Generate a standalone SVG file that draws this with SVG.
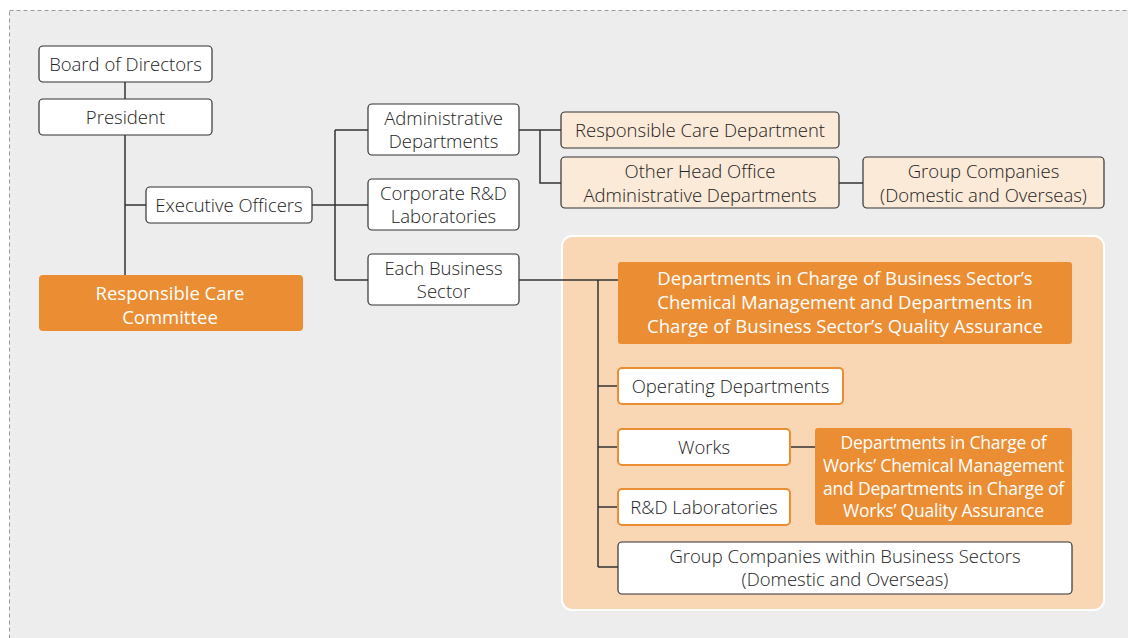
<svg xmlns="http://www.w3.org/2000/svg" width="1128" height="638" viewBox="0 0 1128 638">
<style>
text{font-family:"Open Sans","Noto Sans","Liberation Sans",sans-serif;font-size:18.5px;font-weight:300;fill:#222;text-anchor:middle;dominant-baseline:central}
.w{fill:#fff;stroke:#333;stroke-width:1.2}
.lo{fill:#fcead8;stroke:#333;stroke-width:1.2}
.o{fill:#eb8d33}
.ow{fill:#fff;stroke:#eb8d33;stroke-width:2}
.t{fill:#fff;font-weight:500;font-size:18.5px}
.s{font-size:17.5px;letter-spacing:-0.2px}
.c{fill:none;stroke:#333;stroke-width:1.5}
</style>
<rect x="0" y="0" width="1128" height="638" fill="#fff"/>
<rect x="9.5" y="10.5" width="1130" height="640" fill="#ededed" stroke="#999" stroke-dasharray="4 3"/>
<rect x="562" y="236" width="542" height="374" rx="10" fill="#f9d7b5" stroke="#fff" stroke-width="2"/>
<g id="connectors" class="c">
<path d="M125 82V99M125 135V275M125 205H146M312 205H335M335 130V280M335 130H368M335 205H368M335 280H368M519 130H561M540 130V183H561M839 183H863M519 280H618M598 280V567M598 386H618M598 447H618M598 507H618M598 567H618M790 447H815"/>
</g>
<g id="board"><rect class="w" x="39" y="46" width="173" height="36" rx="4"/><text x="125.5" y="63.5">Board of Directors</text></g>
<g id="president"><rect class="w" x="39" y="99" width="173" height="36" rx="4"/><text x="125.5" y="116.5">President</text></g>
<g id="exec"><rect class="w" x="146" y="187" width="166" height="36" rx="4"/><text x="229" y="204.5">Executive Officers</text></g>
<g id="rcc"><rect class="o" x="39" y="275" width="264" height="56" rx="4"/><text class="t" x="170" y="292">Responsible Care</text><text class="t" x="170" y="316">Committee</text></g>
<g id="admin"><rect class="w" x="368" y="104" width="151" height="51" rx="4"/><text x="443.5" y="117.5">Administrative</text><text x="443.5" y="140.5">Departments</text></g>
<g id="corprd"><rect class="w" x="368" y="179" width="151" height="51" rx="4"/><text x="443.5" y="192.5">Corporate R&amp;D</text><text x="443.5" y="215.5">Laboratories</text></g>
<g id="ebs"><rect class="w" x="368" y="254" width="151" height="51" rx="4"/><text x="443.5" y="267.5">Each Business</text><text x="443.5" y="290.5">Sector</text></g>
<g id="rcd"><rect class="lo" x="561" y="112" width="278" height="36" rx="4"/><text x="700" y="129.5">Responsible Care Department</text></g>
<g id="other"><rect class="lo" x="561" y="157" width="278" height="51" rx="4"/><text x="700" y="170.5">Other Head Office</text><text x="700" y="194.5">Administrative Departments</text></g>
<g id="group"><rect class="lo" x="863" y="157" width="241" height="51" rx="4"/><text x="983.5" y="170.5">Group Companies</text><text x="983.5" y="194.5">(Domestic and Overseas)</text></g>
<g id="bsdept"><rect class="o" x="618" y="262" width="454" height="82" rx="3"/><text class="t" x="845" y="277">Departments in Charge of Business Sector’s</text><text class="t" x="845" y="301">Chemical Management and Departments in</text><text class="t" x="845" y="325">Charge of Business Sector’s Quality Assurance</text></g>
<g id="opdept"><rect class="ow" x="618" y="368" width="225" height="36" rx="4"/><text x="730.5" y="385.5">Operating Departments</text></g>
<g id="works"><rect class="ow" x="618" y="429" width="172" height="36" rx="4"/><text x="704" y="446.5">Works</text></g>
<g id="rdlab"><rect class="ow" x="618" y="489" width="172" height="36" rx="4"/><text x="704" y="506.5">R&amp;D Laboratories</text></g>
<g id="worksdept"><rect class="o" x="815" y="428" width="257" height="97" rx="3"/><text class="t s" x="943.5" y="442">Departments in Charge of</text><text class="t s" x="943.5" y="465">Works’ Chemical Management</text><text class="t s" x="943.5" y="488">and Departments in Charge of</text><text class="t s" x="943.5" y="510">Works’ Quality Assurance</text></g>
<g id="groupbs"><rect class="w" x="618" y="542" width="454" height="52" rx="4"/><text x="845" y="555.5">Group Companies within Business Sectors</text><text x="845" y="578.5">(Domestic and Overseas)</text></g>
</svg>
